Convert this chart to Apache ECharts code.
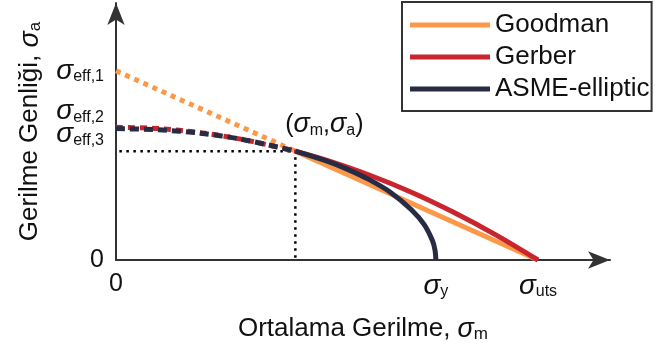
<!DOCTYPE html>
<html>
<head>
<meta charset="utf-8">
<script src="https://cdn.jsdelivr.net/npm/echarts@6/dist/echarts.min.js"></script>
<style>
  html, body { margin: 0; padding: 0; background: #fff; }
  #chart { width: 656px; height: 348px; }
</style>
</head>
<body>
<div id="chart"></div>
<script>
// values in units where sigma_uts = 100
var sigmaUts = 100;
var sigmaY = 75.8;
var sigmaM = 42.5;
var sigmaA = 26;
var sigmaEff1 = 45.2;
var sigmaEff2 = 31.7;
var sigmaEff3 = 31.4;

// Goodman
var goodmanDotX = [0, 42.5];
var goodmanDotY = [45.2, 26];
var goodmanX = [42.5, 100];
var goodmanY = [26, 0];

// Gerber
var gerberDashX = [0, 10, 20, 30, 42.5];
var gerberDashY = [31.7, 31.4, 30.4, 28.8, 26];
var gerberX = [42.5, 50, 60, 70, 80, 90, 100];
var gerberY = [26, 23.8, 20.3, 16.2, 11.4, 6.0, 0];

// ASME-elliptic
var asmeDashX = [0, 10, 20, 30, 42.5];
var asmeDashY = [31.4, 31.1, 30.3, 28.8, 26];
var asmeX = [42.5, 50, 55, 60, 65, 70, 73, 75, 75.6, 75.8];
var asmeY = [26, 23.6, 21.6, 19.2, 16.2, 12.0, 8.5, 4.6, 2.3, 0];

// axis labels
var xTickValues = [0, sigmaY, sigmaUts];
var xTickLabels = ['{n|0}', '{s|σ}{sub|y}', '{s|σ}{sub|uts}'];
var yTickValues = [0, sigmaEff3, sigmaEff2, sigmaEff1];
var yTickLabels = ['{n|0}', '{gapS| }\n{s|σ}{sub|eff,3}', '{s|σ}{sub|eff,2}\n{gapL| }', '{s|σ}{sub|eff,1}'];

function pts(xs, ys) {
    var arr = [];
    for (var i = 0; i < xs.length; i++) {
        arr.push([xs[i], ys[i]]);
    }
    return arr;
}

var FONT = "'Liberation Sans', Arial, sans-serif";
var ORANGE = '#FD9848';
var RED = '#C9252F';
var NAVY = '#272C44';

var richText = {
    n: { fontSize: 25, fontFamily: FONT, color: '#111' },
    s: { fontSize: 28, fontStyle: 'italic', fontFamily: FONT, color: '#111' },
    sub: { fontSize: 16, fontFamily: FONT, color: '#111', padding: [12, 0, 0, 0] },
    gapL: { fontSize: 1, lineHeight: 32 },
    gapS: { fontSize: 1, lineHeight: 12 }
};

var titleRich = {
    t: { fontSize: 26, color: '#111', fontFamily: FONT },
    s: { fontSize: 27, fontStyle: 'italic', color: '#111', fontFamily: FONT },
    sub: { fontSize: 17, color: '#111', fontFamily: FONT, padding: [11, 0, 0, 0] }
};

var chart = echarts.init(document.getElementById('chart'));

var option = {
    animation: false,
    textStyle: { fontFamily: FONT },
    grid: { left: 116, right: 46, top: 3, bottom: 86 },
    legend: {
        data: ['Goodman', 'Gerber', 'ASME-elliptic'],
        orient: 'vertical',
        left: 402,
        top: 2,
        padding: [10, 2, 9, 8],
        borderColor: '#333',
        borderWidth: 2,
        itemWidth: 80,
        itemHeight: 5,
        itemGap: 6,
        icon: 'rect',
        textStyle: { fontSize: 26, color: '#111', fontFamily: FONT, lineHeight: 26 }
    },
    xAxis: {
        type: 'value',
        min: 0,
        max: 117.06,
        name: '{t|Ortalama Gerilme, }{s|σ}{sub|m}',
        nameLocation: 'middle',
        nameGap: 55,
        nameTextStyle: { rich: titleRich },
        axisLine: {
            lineStyle: { color: '#333', width: 2 },
            symbol: ['none', 'arrow'],
            symbolSize: [13, 22]
        },
        axisTick: { show: false },
        splitLine: { show: false },
        axisLabel: {
            customValues: xTickValues,
            formatter: function (v) {
                return xTickLabels[xTickValues.indexOf(v)];
            },
            margin: 12,
            rich: richText
        }
    },
    yAxis: {
        type: 'value',
        min: 0,
        max: 61.4,
        name: '{t|Gerilme Genliği, }{s|σ}{sub|a}',
        nameLocation: 'middle',
        nameGap: 72,
        nameTextStyle: { rich: titleRich },
        axisLine: {
            lineStyle: { color: '#333', width: 2 },
            symbol: ['none', 'arrow'],
            symbolSize: [13, 22]
        },
        axisTick: { show: false },
        splitLine: { show: false },
        axisLabel: {
            customValues: yTickValues,
            formatter: function (v) {
                return yTickLabels[yTickValues.indexOf(v)];
            },
            margin: 12,
            rich: richText
        }
    },
    series: [
        {
            name: 'guide',
            type: 'line',
            data: [[0.8, sigmaA], [sigmaM, sigmaA], [sigmaM, 0]],
            symbol: 'none',
            lineStyle: { color: '#000', width: 2.5, type: [2.5, 4.5] },
            z: 1
        },
        {
            name: 'Goodman-dot',
            type: 'line',
            data: pts(goodmanDotX, goodmanDotY),
            symbol: 'none',
            lineStyle: { color: ORANGE, width: 5, type: [5, 5] },
            z: 2
        },
        {
            name: 'Goodman',
            type: 'line',
            data: pts(goodmanX, goodmanY),
            symbol: 'none',
            itemStyle: { color: ORANGE },
            lineStyle: { color: ORANGE, width: 5 },
            z: 2
        },
        {
            name: 'Gerber-dash',
            type: 'line',
            data: pts(gerberDashX, gerberDashY),
            symbol: 'none',
            smooth: 0.3,
            lineStyle: { color: RED, width: 5, type: [7, 5] },
            z: 3
        },
        {
            name: 'Gerber',
            type: 'line',
            data: pts(gerberX, gerberY),
            symbol: 'none',
            smooth: 0.3,
            itemStyle: { color: RED },
            lineStyle: { color: RED, width: 5 },
            z: 3
        },
        {
            name: 'ASME-dash',
            type: 'line',
            data: pts(asmeDashX, asmeDashY),
            symbol: 'none',
            smooth: 0.3,
            lineStyle: { color: NAVY, width: 5, type: [9, 5] },
            z: 4
        },
        {
            name: 'ASME-elliptic',
            type: 'line',
            data: pts(asmeX, asmeY),
            symbol: 'none',
            smooth: 0.3,
            itemStyle: { color: NAVY },
            lineStyle: { color: NAVY, width: 5 },
            z: 4
        },
        {
            name: 'point',
            type: 'scatter',
            data: [[sigmaM, sigmaA]],
            symbolSize: 0,
            itemStyle: { color: '#111', opacity: 1 },
            z: 5,
            label: {
                show: true,
                position: 'top',
                offset: [29, -8],
                color: '#111',
                opacity: 1,
                textBorderWidth: 0,
                formatter: '{p|(}{s|σ}{sub|m}{p|,}{s|σ}{sub|a}{p|)}',
                rich: {
                    p: { fontSize: 25, color: '#111', fontFamily: FONT, textBorderWidth: 0 },
                    s: { fontSize: 27, fontStyle: 'italic', color: '#111', fontFamily: FONT, textBorderWidth: 0 },
                    sub: { fontSize: 16, color: '#111', fontFamily: FONT, padding: [11, 0, 0, 0], textBorderWidth: 0 }
                }
            }
        }
    ]
};

chart.setOption(option);
</script>
</body>
</html>
